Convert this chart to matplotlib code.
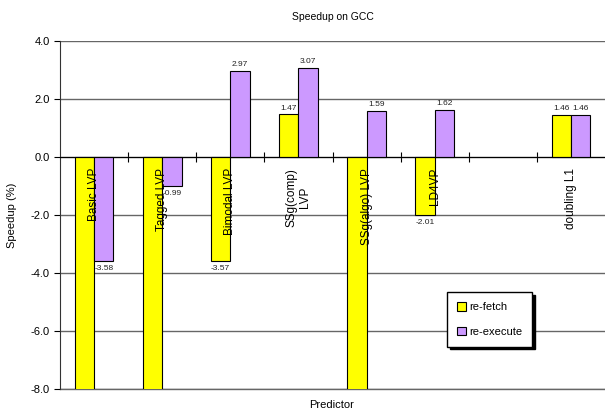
import numpy as np
import matplotlib.pyplot as plt

plt.rcParams['font.family'] = ['Liberation Sans', 'DejaVu Sans']

## data: speedup (%) per predictor
predictors = ['Basic LVP', 'Tagged LVP', 'Bimodal LVP', 'SSg(comp)\nLVP',
              'SSg(algo) LVP', 'LD4VP', '', 'doubling L1']
refetch = [-12.0, -12.0, -3.57, 1.47, -12.0, -2.01, np.nan, 1.46]
reexecute = [-3.58, -0.99, 2.97, 3.07, 1.59, 1.62, np.nan, 1.46]
yticks = [-8.0, -6.0, -4.0, -2.0, 0.0, 2.0, 4.0]

ymin, ymax = -8.0, 4.0
x = np.arange(len(predictors))
w = 0.285

fig = plt.figure(figsize=(6.05, 4.12), dpi=100)
ax = fig.add_axes([60/605, 1-389/412, 545/605, 348/412])

b1 = ax.bar(x - w/2, refetch, w, color='#FFFF00', edgecolor='black', linewidth=0.8,
            label='re-fetch', zorder=3)
b2 = ax.bar(x + w/2, reexecute, w, color='#CC99FF', edgecolor='black', linewidth=0.8,
            label='re-execute', zorder=3)

## value labels
for xs, vals in [(x - w/2, refetch), (x + w/2, reexecute)]:
    for xi, v in zip(xs, vals):
        if np.isnan(v) or v < ymin:
            continue
        off = 2 if v >= 0 else -3
        ax.annotate('%.2f' % v, (xi, v), xytext=(0, off), textcoords='offset points',
                    ha='center', va='bottom' if v >= 0 else 'top', fontsize=6, color='#222222',
                    zorder=5)

## category names, rotated, hanging below the zero line
for xi, name in zip(x, predictors):
    ax.annotate(name, (xi, 0), xytext=(0, -8), textcoords='offset points',
                rotation=90, ha='center', va='top', fontsize=8.5,
                multialignment='center', zorder=5)

ax.set_xlim(-0.5, len(predictors) - 0.5)
ax.set_ylim(ymin, ymax)
ax.set_yticks(yticks)
ax.set_yticklabels(['%.1f' % t for t in yticks], fontsize=8)
ax.yaxis.grid(True, color='#666666', linewidth=1.0, zorder=0)
ax.axhline(ymin, color='#666666', linewidth=1.0, clip_on=False, zorder=1)
ax.tick_params(axis='y', direction='out', length=4, width=0.8)

ax.spines['top'].set_visible(False)
ax.spines['right'].set_visible(False)
ax.spines['bottom'].set_position(('data', 0))
ax.spines['bottom'].set_zorder(4)
ax.spines['left'].set_color('#333333')
ax.set_xticks(x[:-1] + 0.5)
ax.set_xticklabels([])
ax.tick_params(axis='x', direction='inout', length=7, width=0.8)

ax.set_title('Speedup on GCC', fontsize=7.5, pad=15)
ax.set_ylabel('Speedup (%)', fontsize=8, labelpad=10)
fig.text(332/605, 1-405/412, 'Predictor', ha='center', va='center', fontsize=8)

fig.legend(handles=[b1, b2], loc='upper left', bbox_to_anchor=(447/605, 1-292/412),
           fontsize=8, frameon=True, fancybox=False, edgecolor='black', framealpha=1,
           shadow={'facecolor': 'black', 'edgecolor': 'black', 'alpha': 1},
           handlelength=0.8, handleheight=0.8, handletextpad=0.3, labelspacing=1.3,
           borderpad=0.9, borderaxespad=0)

plt.savefig('out.png', dpi=100)
